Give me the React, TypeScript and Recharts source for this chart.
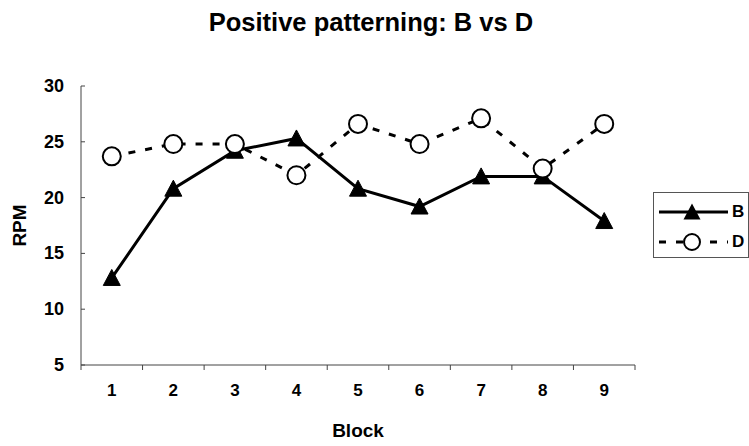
import React from 'react';
import { LineChart, Line, XAxis, YAxis, Legend, Label } from 'recharts';

const blocks = [1, 2, 3, 4, 5, 6, 7, 8, 9];
const bValues = [12.8, 20.8, 24.2, 25.3, 20.8, 19.2, 21.9, 21.9, 17.9];
const dValues = [23.7, 24.8, 24.8, 22.0, 26.6, 24.8, 27.1, 22.6, 26.6];
const yTicks = [5, 10, 15, 20, 25, 30];
const xTicks = [0.5, 1, 1.5, 2, 2.5, 3, 3.5, 4, 4.5, 5, 5.5, 6, 6.5, 7, 7.5, 8, 8.5, 9, 9.5];
const titleText = 'Positive patterning: B vs D';
const xLabel = 'Block';
const yLabel = 'RPM';

const data = blocks.map((b, i) => ({ block: b, B: bValues[i], D: dValues[i] }));

const FONT = "Arial, 'Liberation Sans', sans-serif";
const AXIS = '#444';

const triPoints = (cx: number, cy: number) =>
  `${cx},${cy - 8.5} ${cx - 8.5},${cy + 7.5} ${cx + 8.5},${cy + 7.5}`;

const TriDot = (props: any) => {
  const { cx, cy, index } = props;
  if (cx == null || cy == null) return <g key={`t-${index}`} />;
  return <polygon key={`t-${index}`} points={triPoints(cx, cy)} fill="#000" stroke="#000" strokeWidth={1} />;
};

const CircDot = (props: any) => {
  const { cx, cy, index } = props;
  if (cx == null || cy == null) return <g key={`c-${index}`} />;
  return <circle key={`c-${index}`} cx={cx} cy={cy} r={9} fill="#fff" stroke="#000" strokeWidth={2} />;
};

const XTick = (props: any) => {
  const { x, y, payload } = props;
  const v = payload.value;
  if (Number.isInteger(v)) {
    return (
      <text x={x} y={y + 31} textAnchor="middle" fontFamily={FONT} fontWeight="bold" fontSize={17} fill="#000">
        {v}
      </text>
    );
  }
  return <line x1={x} y1={y} x2={x} y2={y + 5} stroke={AXIS} strokeWidth={1} />;
};

const YTick = (props: any) => {
  const { x, y, payload } = props;
  return (
    <g>
      <line x1={x} y1={y} x2={x + 4} y2={y} stroke={AXIS} strokeWidth={1} />
      <text
        x={x - 17}
        y={y}
        textAnchor="end"
        dominantBaseline="central"
        fontFamily={FONT}
        fontWeight="bold"
        fontSize={18}
        fill="#000"
      >
        {payload.value}
      </text>
    </g>
  );
};

const YLabel = (props: any) => {
  const vb = props.viewBox || {};
  const cx = (vb.x || 0) + 19;
  const cy = (vb.y || 0) + (vb.height || 0) / 2;
  return (
    <text
      x={cx}
      y={cy}
      transform={`rotate(-90, ${cx}, ${cy})`}
      textAnchor="middle"
      dominantBaseline="central"
      fontFamily={FONT}
      fontWeight="bold"
      fontSize={19}
      fill="#000"
    >
      {yLabel}
    </text>
  );
};

const LegendContent = (props: any) => {
  const payload = props.payload || [];
  return (
    <div
      style={{
        border: '1px solid #555',
        width: 96,
        height: 66,
        boxSizing: 'border-box',
        padding: '4px 0 0 5px',
        background: '#fff',
        fontFamily: FONT,
        fontWeight: 'bold',
        fontSize: 17,
      }}
    >
      {payload.map((p: any) => {
        const isB = p.dataKey === 'B';
        return (
          <div key={p.value} style={{ display: 'flex', alignItems: 'center', height: 30 }}>
            <svg width={70} height={24} style={{ display: 'block' }}>
              <line
                x1={0}
                y1={12}
                x2={69}
                y2={12}
                stroke="#000"
                strokeWidth={3}
                strokeDasharray={isB ? undefined : '7 10'}
              />
              {isB ? (
                <polygon points={triPoints(33, 12)} fill="#000" />
              ) : (
                <circle cx={33} cy={12} r={8} fill="#fff" stroke="#000" strokeWidth={2} />
              )}
            </svg>
            <span style={{ marginLeft: 3, color: '#000' }}>{p.value}</span>
          </div>
        );
      })}
    </div>
  );
};

export default function App() {
  return (
    <div style={{ position: 'absolute', left: 0, top: 0, width: 749, height: 446, background: '#fff' }}>
      <div
        style={{
          position: 'absolute',
          left: 0,
          top: 8,
          width: 742,
          textAlign: 'center',
          fontFamily: FONT,
          fontWeight: 'bold',
          fontSize: 25.5,
          lineHeight: '28px',
          color: '#000',
        }}
      >
        {titleText}
      </div>
      <LineChart width={749} height={446} data={data} margin={{ top: 86, right: 114, bottom: 0, left: 0 }}>
        <XAxis
          dataKey="block"
          type="number"
          domain={[0.5, 9.5]}
          ticks={xTicks}
          interval={0}
          tickSize={0}
          tickMargin={0}
          tickLine={false}
          axisLine={{ stroke: AXIS, strokeWidth: 1 }}
          height={81}
          tick={<XTick />}
        >
          <Label
            value={xLabel}
            position="insideBottom"
            offset={9}
            style={{ fontFamily: FONT, fontWeight: 'bold', fontSize: 19, fill: '#000' }}
          />
        </XAxis>
        <YAxis
          type="number"
          domain={[5, 30]}
          ticks={yTicks}
          interval={0}
          width={81}
          tickSize={0}
          tickMargin={0}
          tickLine={false}
          axisLine={{ stroke: AXIS, strokeWidth: 1 }}
          tick={<YTick />}
        >
          <Label content={<YLabel />} />
        </YAxis>
        <Legend
          layout="horizontal"
          verticalAlign="middle"
          align="center"
          content={<LegendContent />}
          wrapperStyle={{ position: 'absolute', left: 653, top: 192, width: 96, height: 66 }}
        />
        <Line
          dataKey="B"
          name="B"
          stroke="#000"
          strokeWidth={3}
          dot={TriDot}
          activeDot={false}
          isAnimationActive={false}
        />
        <Line
          dataKey="D"
          name="D"
          stroke="#000"
          strokeWidth={3}
          strokeDasharray="7 10"
          dot={CircDot}
          activeDot={false}
          isAnimationActive={false}
        />
      </LineChart>
    </div>
  );
}
